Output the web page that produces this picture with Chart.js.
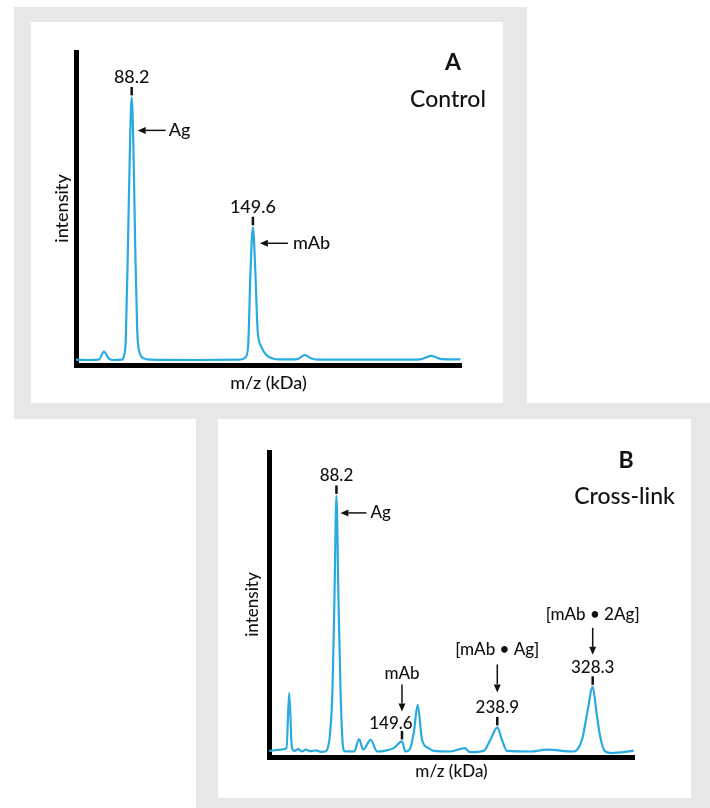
<!DOCTYPE html>
<html>
<head>
<meta charset="utf-8">
<script src="https://cdn.jsdelivr.net/npm/chart.js@4.4.1/dist/chart.umd.min.js"></script>
<style>
  body { margin: 0; width: 710px; height: 808px; background: #fff; position: relative; overflow: hidden; }
  .frame { position: absolute; background: #e6e7e8; }
  .card { position: absolute; background: #fff; }
  canvas { position: absolute; left: 0; top: 0; }
</style>
</head>
<body>
<div class="frame" style="left:14px;top:7px;width:513px;height:412px"></div>
<div class="frame" style="left:196px;top:403px;width:514px;height:405px"></div>
<div class="card" style="left:31px;top:22px;width:472px;height:381px"><canvas id="chartA" width="472" height="381"></canvas></div>
<div class="card" style="left:218px;top:419px;width:473px;height:379px"><canvas id="chartB" width="473" height="379"></canvas></div>
<script>
// panel A - control
const mzA = [60, 66.9, 71.5, 74.2, 76.1, 78.1, 83.1, 84.4, 85.2, 86.3, 87.4, 88.2, 89.0, 90.0, 91.0, 92.3, 94.3, 97.3, 122.6, 142.9,
  145.9, 147.2, 148.4, 149.6, 150.8, 152.0, 153.9, 156.4, 159.6, 163.1, 172.2, 175.8, 179.3, 183.4, 223.9, 234.0, 239.9, 245.1, 254.7];
const intensityA = [1.7, 1.6, 1.7, 4.3, 2.5, 1.6, 1.7, 3.2, 7.9, 37.8, 71.9, 85.5, 71.9, 37.8, 11.1, 3.8, 2.1, 1.7, 1.6, 1.7,
  2.5, 6.3, 30.4, 44.0, 30.4, 11.1, 5.8, 3.2, 2.1, 1.8, 1.9, 3.2, 2.1, 1.7, 1.7, 1.8, 2.9, 1.9, 1.8];
const peakMzA = [88.2, 149.6];
const peakNamesA = ["Ag", "mAb"];

// panel B - cross-link
const mzB = [25.2, 27.6, 35.8, 41.4, 43.9, 46.4, 48.6, 52.6, 55.7, 59.5, 64.1, 68.8, 73.5, 78.2, 79.8, 82.1, 84.5, 86.3, 88.2, 90.1,
  92.0, 93.8, 95.7, 104.8, 109.4, 113.2, 120.3, 126.3, 134.1, 141.8, 149.6, 152.8, 156.8, 160.6, 164.3, 168.4, 174.6, 179.3, 194.9, 208.3,
  213.6, 226.1, 232.4, 238.9, 243.3, 248.0, 269.8, 285.4, 310.3, 318.2, 323.2, 328.3, 331.9, 335.3, 340.0, 346.3, 366.7];
const intensityB = [2.0, 2.1, 2.4, 2.9, 21.0, 3.4, 2.0, 2.6, 1.8, 2.4, 1.9, 2.2, 1.7, 1.9, 2.7, 7.3, 22.1, 51.6, 85.6, 51.6,
  22.1, 5.6, 1.9, 1.8, 5.9, 2.4, 5.6, 1.8, 2.1, 2.9, 5.1, 1.8, 2.4, 7.9, 17.1, 5.6, 2.9, 2.0, 1.8, 2.9,
  1.6, 2.0, 5.6, 9.7, 5.6, 2.0, 1.8, 2.4, 1.8, 5.6, 14.5, 23.0, 14.5, 6.7, 1.8, 1.3, 2.1];
const peakMzB = [88.2, 149.6, 238.9, 328.3];
const peakNamesB = ["Ag", "mAb", "[mAb \u2022 Ag]", "[mAb \u2022 2Ag]"];

const INK = "#111";
const LINE = "#29abe2";

function arrow(ctx, x1, y1, x2, y2) {
  // head sits at x2,y2
  const a = Math.atan2(y2 - y1, x2 - x1);
  const len = 8, half = 3.5;
  const bx = x2 - len * Math.cos(a), by = y2 - len * Math.sin(a);
  ctx.strokeStyle = INK;
  ctx.lineWidth = 1.5;
  ctx.beginPath();
  ctx.moveTo(x1, y1);
  ctx.lineTo(bx, by);
  ctx.stroke();
  ctx.fillStyle = INK;
  ctx.beginPath();
  ctx.moveTo(x2, y2);
  ctx.lineTo(bx - half * Math.sin(a), by + half * Math.cos(a));
  ctx.lineTo(bx + half * Math.sin(a), by - half * Math.cos(a));
  ctx.closePath();
  ctx.fill();
}

const notesPlugin = {
  id: "peakNotes",
  afterDatasetsDraw(chart, args, opts) {
    const ctx = chart.ctx;
    const xs = chart.scales.x, ys = chart.scales.y;
    const area = chart.chartArea;
    ctx.save();
    ctx.fillStyle = INK;

    opts.peaks.forEach(function (mz, i) {
      const idx = opts.mz.indexOf(mz);
      const px = xs.getPixelForValue(mz);
      const py = ys.getPixelForValue(opts.intensity[idx]);
      const s = opts.styles[i];

      ctx.fillStyle = INK;
      ctx.fillRect(px - 1.25, py - 10.5, 2.5, 8.5);

      ctx.font = "500 " + opts.fontSize + "px Lato";
      ctx.textAlign = "center";
      ctx.textBaseline = "alphabetic";
      ctx.fillText(mz.toFixed(1), px + (s.numDx || 0), py - s.numUp);

      if (s.side) {
        const ay = py + s.arrowDy;
        arrow(ctx, px + s.tailDx, ay, px + s.headDx, ay);
        ctx.fillStyle = INK;
        ctx.textAlign = "left";
        ctx.fillText(opts.names[i], px + s.textDx, ay + 5.5);
      } else {
        arrow(ctx, px, py - s.arrowTop, px, py - s.arrowBot);
        ctx.fillStyle = INK;
        ctx.textAlign = "center";
        ctx.fillText(opts.names[i], px, py - s.nameUp);
      }
    });

    ctx.textAlign = "center";
    ctx.fillStyle = INK;
    ctx.font = "bold " + opts.letterSize + "px Lato";
    ctx.fillText(opts.letter, area.right + opts.letterDx, area.top + opts.letterDy);
    ctx.font = "500 " + opts.titleSize + "px Lato";
    ctx.fillText(opts.title, area.right + opts.titleDx, area.top + opts.titleDy);
    ctx.restore();
  }
};

function createSpectrum(canvasId, mz, intensity, xMin, xMax, cfg) {
  const points = mz.map(function (x, i) { return { x: x, y: intensity[i] }; });
  return new Chart(document.getElementById(canvasId), {
    type: "line",
    data: {
      datasets: [{
        data: points,
        borderColor: LINE,
        borderWidth: 2.2,
        pointRadius: 0,
        fill: false,
        cubicInterpolationMode: "monotone"
      }]
    },
    options: {
      responsive: false,
      animation: false,
      devicePixelRatio: 1,
      layout: { padding: cfg.padding },
      plugins: {
        legend: { display: false },
        tooltip: { enabled: false },
        peakNotes: cfg.notes
      },
      scales: {
        x: {
          type: "linear",
          min: xMin,
          max: xMax,
          grid: { display: false },
          ticks: { display: false },
          border: { display: true, color: "#000", width: 5 },
          title: {
            display: true,
            text: "m/z (kDa)",
            color: INK,
            font: { family: "Lato", size: cfg.axisFont, weight: "500" },
            padding: { top: 0, bottom: cfg.xTitlePad }
          },
          afterFit: function (s) { s.height = cfg.xHeight; }
        },
        y: {
          min: 0,
          max: 100,
          grid: { display: false },
          ticks: { display: false },
          border: { display: true, color: "#000", width: 5 },
          title: {
            display: true,
            text: "intensity",
            color: INK,
            font: { family: "Lato", size: cfg.axisFont, weight: "500" },
            padding: { top: cfg.yTitlePad, bottom: 0 }
          },
          afterFit: function (s) { s.width = cfg.yWidth; }
        }
      }
    },
    plugins: [notesPlugin]
  });
}

document.addEventListener("DOMContentLoaded", function () {
  createSpectrum("chartA", mzA, intensityA, 60, 255, {
    padding: { top: 30, right: 42, bottom: 0, left: 0 },
    axisFont: 18, xTitlePad: 9, xHeight: 38, yTitlePad: 20, yWidth: 45,
    notes: {
      mz: mzA, intensity: intensityA, peaks: peakMzA, names: peakNamesA, fontSize: 18,
      styles: [
        { side: true, numUp: 14, arrowDy: 33, headDx: 6, tailDx: 34, textDx: 37 },
        { side: true, numUp: 14, arrowDy: 16, headDx: 7, tailDx: 35, textDx: 40 }
      ],
      letter: "A", letterSize: 23, letterDx: -8, letterDy: 17.5,
      title: "Control", titleSize: 23, titleDx: -13, titleDy: 54.5
    }
  });

  createSpectrum("chartB", mzB, intensityB, 25, 367, {
    padding: { top: 33, right: 57, bottom: 0, left: 0 },
    axisFont: 17, xTitlePad: 16, xHeight: 41, yTitlePad: 24, yWidth: 51,
    notes: {
      mz: mzB, intensity: intensityB, peaks: peakMzB, names: peakNamesB, fontSize: 17,
      styles: [
        { side: true, numUp: 15, arrowDy: 17, headDx: 4, tailDx: 30, textDx: 34 },
        { side: false, numUp: 12, numDx: -11, arrowTop: 57, arrowBot: 30, nameUp: 62 },
        { side: false, numUp: 14, arrowTop: 63, arrowBot: 35, nameUp: 72 },
        { side: false, numUp: 14, arrowTop: 59, arrowBot: 32, nameUp: 67 }
      ],
      letter: "B", letterSize: 23, letterDx: -8, letterDy: 16,
      title: "Cross-link", titleSize: 23, titleDx: -9.5, titleDy: 52
    }
  });
});
</script>
</body>
</html>
